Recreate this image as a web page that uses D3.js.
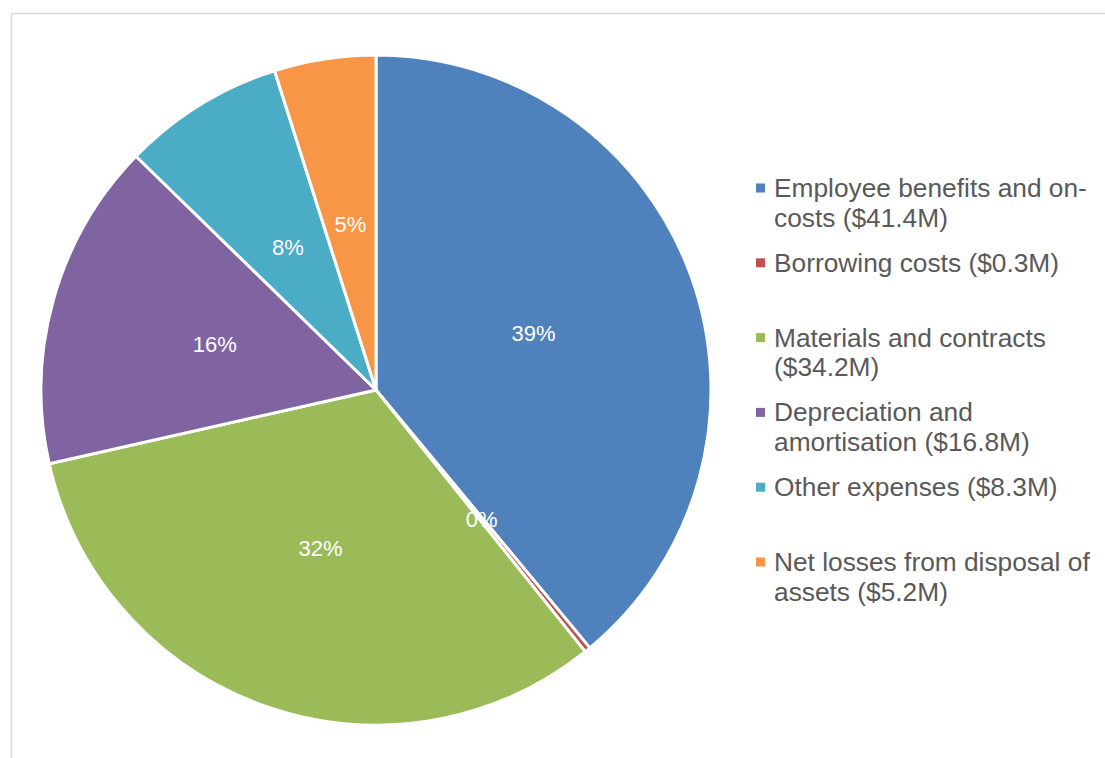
<!DOCTYPE html>
<html>
<head>
<meta charset="utf-8">
<script src="https://cdn.jsdelivr.net/npm/d3@7/dist/d3.min.js"></script>
<style>
  html, body { margin: 0; padding: 0; background: #ffffff; }
  svg { display: block; }
</style>
</head>
<body>
<svg id="chart" width="1105" height="758"></svg>
<script>
// Expense categories and amounts ($M)
const categories = [
  "Employee benefits and on-costs",
  "Borrowing costs",
  "Materials and contracts",
  "Depreciation and amortisation",
  "Other expenses",
  "Net losses from disposal of assets"
];
const amounts = [41.4, 0.3, 34.2, 16.8, 8.3, 5.2];
const colors = ["#4F81BD", "#C0504D", "#9BBB59", "#8064A2", "#4BACC6", "#F79646"];

const svg = d3.select("#chart");
const W = 1105, H = 758;

// Chart area frame (right and bottom edges run off the page)
svg.append("path")
  .attr("d", `M11.5,${H} L11.5,13.5 L${W},13.5`)
  .attr("fill", "none")
  .attr("stroke", "#d9d9d9")
  .attr("stroke-width", 1.5);

const cx = 376, cy = 390, R = 335;
const total = d3.sum(amounts);

const data = categories.map((c, i) => ({ name: c, value: amounts[i], color: colors[i] }));

const pie = d3.pie().value(d => d.value).sort(null);
const arc = d3.arc().innerRadius(0).outerRadius(R);

const g = svg.append("g").attr("transform", `translate(${cx},${cy})`);
const arcs = pie(data);

g.selectAll("path.slice")
  .data(arcs)
  .join("path")
  .attr("class", "slice")
  .attr("d", arc)
  .attr("fill", d => d.data.color)
  .attr("stroke", "#ffffff")
  .attr("stroke-width", 3)
  .attr("stroke-linejoin", "round");

// Percentage labels at each slice's centroid
g.selectAll("text.pct")
  .data(arcs)
  .join("text")
  .attr("class", "pct")
  .attr("transform", d => `translate(${arc.centroid(d)})`)
  .attr("text-anchor", "middle")
  .attr("dominant-baseline", "central")
  .attr("font-family", "Liberation Sans, Arial, sans-serif")
  .attr("font-size", 22)
  .attr("fill", "#ffffff")
  .text(d => Math.round(d.data.value / total * 100) + "%");

// Legend
const fontSize = 26.3;
const legendX = 756, textX = 774, legendTop = 188, entryStep = 74.8, lineH = 29.5;
const maxW = 324;

const measurer = svg.append("text")
  .attr("font-family", "Liberation Sans, Arial, sans-serif")
  .attr("font-size", fontSize)
  .attr("visibility", "hidden");
function textW(s) { measurer.text(s); return measurer.node().getComputedTextLength(); }

// Break text at spaces and after hyphens, keeping lines under maxW
function wrap(s) {
  const pieces = [];
  s.replace(/[^\s-]+-?/g, (m, off) => {
    pieces.push({ t: m, space: s[off + m.length] === " " });
    return m;
  });
  const lines = [];
  let cur = "";
  pieces.forEach((p, k) => {
    const sep = k > 0 && pieces[k - 1].space ? " " : "";
    const trial = cur ? cur + sep + p.t : p.t;
    if (cur && textW(trial) > maxW) {
      lines.push(cur);
      cur = p.t;
    } else {
      cur = trial;
    }
  });
  if (cur) lines.push(cur);
  return lines;
}

const legend = svg.append("g");
data.forEach((d, i) => {
  const y0 = legendTop + i * entryStep;
  legend.append("rect")
    .attr("x", legendX)
    .attr("y", y0 - 4.5)
    .attr("width", 9)
    .attr("height", 9)
    .attr("fill", d.color);
  const lines = wrap(`${d.name} ($${d.value.toFixed(1)}M)`);
  const t = legend.append("text")
    .attr("font-family", "Liberation Sans, Arial, sans-serif")
    .attr("font-size", fontSize)
    .attr("fill", "#595959");
  lines.forEach((ln, j) => {
    t.append("tspan")
      .attr("x", textX)
      .attr("y", y0 + j * lineH)
      .attr("dominant-baseline", "central")
      .text(ln);
  });
});
measurer.remove();
</script>
</body>
</html>
